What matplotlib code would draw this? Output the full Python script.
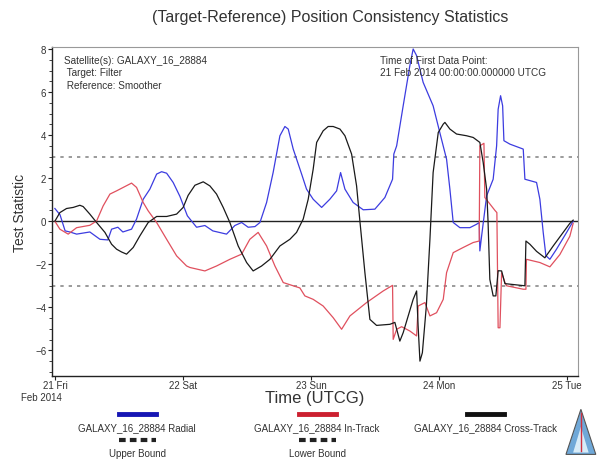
import matplotlib
matplotlib.use("Agg")
import matplotlib.pyplot as plt
from matplotlib.lines import Line2D
from matplotlib.patches import Polygon
from matplotlib.ticker import MultipleLocator

plt.rcParams["font.family"] = ["Liberation Sans", "DejaVu Sans"]

# days since 21 Feb 2014 00:00 UTCG
radial_t = [0.00, 0.04, 0.08, 0.117, 0.17, 0.273, 0.352, 0.414, 0.443, 0.492, 0.531, 0.599,
            0.638, 0.690, 0.742, 0.795, 0.834, 0.873, 0.924, 0.977, 1.035, 1.107, 1.172,
            1.234, 1.341, 1.406, 1.459, 1.510, 1.563, 1.602, 1.654, 1.705, 1.758, 1.797,
            1.823, 1.862, 1.927, 1.966, 2.018, 2.084, 2.148, 2.201, 2.232, 2.266, 2.330,
            2.409, 2.500, 2.578, 2.638, 2.648, 2.670, 2.721, 2.773, 2.799, 2.826, 2.877,
            2.955, 3.008, 3.060, 3.086, 3.112, 3.164, 3.242, 3.295, 3.315, 3.320, 3.334,
            3.373, 3.424, 3.451, 3.463, 3.482, 3.498, 3.508, 3.555, 3.659, 3.672, 3.763,
            3.789, 3.815, 3.836, 3.867, 3.919, 3.998, 4.049]
radial_v = [0.59, 0.30, -0.45, -0.50, -0.60, -0.50, -0.84, -0.87, -0.37, -0.28, -0.50, -0.37,
            0.10, 1.02, 1.49, 2.19, 2.30, 2.23, 1.80, 1.15, 0.25, -0.28, -0.20,
            -0.45, -0.60, -0.20, -0.06, -0.28, -0.25, -0.06, 0.87, 2.26, 3.97, 4.40,
            4.28, 3.35, 2.20, 1.49, 1.02, 0.64, 1.02, 1.41, 2.26, 1.49, 0.87,
            0.53, 0.56, 1.10, 1.95, 3.12, 3.50, 5.36, 7.22, 8.00, 7.69, 6.45,
            5.36, 4.10, 2.88, 1.49, -0.06, -0.30, -0.30, -0.14, -0.06, -1.38, -0.68,
            1.18, 1.95, 3.50, 5.20, 5.83, 5.36, 3.74, 3.58, 3.35, 1.95, 1.80,
            1.02, -0.52, -1.60, -1.77, -1.30, -0.52, 0.00]

intrack_t = [0.00, 0.039, 0.104, 0.170, 0.273, 0.326, 0.377, 0.430, 0.482, 0.534, 0.599,
             0.638, 0.690, 0.729, 0.795, 0.873, 0.951, 1.029, 1.055, 1.172, 1.263, 1.367,
             1.459, 1.523, 1.588, 1.654, 1.719, 1.784, 1.862, 1.914, 1.953, 2.018, 2.096,
             2.174, 2.240, 2.305, 2.435, 2.565, 2.638, 2.643, 2.670, 2.709, 2.773, 2.826,
             2.838, 2.891, 2.930, 2.982, 3.034, 3.060, 3.112, 3.190, 3.268, 3.315, 3.320,
             3.352, 3.359, 3.438, 3.453, 3.463, 3.477, 3.490, 3.516, 3.529, 3.659, 3.680,
             3.684, 3.789, 3.867, 3.945, 4.023, 4.049]
intrack_v = [0.00, -0.37, -0.60, -0.30, -0.19, 0.01, 0.71, 1.26, 1.41, 1.57, 1.77,
             1.57, 0.87, 0.48, -0.06, -0.84, -1.61, -2.08, -2.15, -2.31, -2.08, -1.77,
             -1.53, -0.84, -0.52, -1.15, -2.08, -2.85, -3.00, -3.10, -3.47, -3.63, -3.94,
             -4.48, -5.02, -4.40, -3.78, -3.24, -2.98, -5.49, -5.02, -4.90, -5.10, -5.33,
             -3.94, -3.78, -4.40, -4.25, -3.63, -2.39, -1.46, -1.22, -0.99, -0.92, 3.50,
             3.62, 1.10, 0.50, 0.40, -4.95, -4.95, -2.39, -2.85, -3.00, -3.16, -3.16,
             -1.77, -1.92, -2.12, -1.55, -0.70, -0.10]

cross_t = [0.00, 0.039, 0.091, 0.143, 0.195, 0.221, 0.273, 0.326, 0.391, 0.443, 0.482,
           0.521, 0.560, 0.612, 0.664, 0.729, 0.795, 0.873, 0.951, 1.002, 1.041, 1.094,
           1.159, 1.211, 1.263, 1.315, 1.367, 1.432, 1.498, 1.549, 1.615, 1.680, 1.758,
           1.836, 1.888, 1.940, 1.979, 2.018, 2.045, 2.096, 2.135, 2.174, 2.227, 2.266,
           2.318, 2.357, 2.383, 2.422, 2.461, 2.513, 2.617, 2.656, 2.695, 2.721, 2.799,
           2.826, 2.838, 2.852, 2.871, 2.902, 2.930, 2.955, 2.995, 3.034, 3.047, 3.086,
           3.138, 3.216, 3.268, 3.320, 3.346, 3.373, 3.384, 3.398, 3.424, 3.445, 3.463,
           3.490, 3.516, 3.672, 3.680, 3.711, 3.763, 3.828, 3.893, 3.971, 4.023, 4.049]
cross_v = [0.00, 0.40, 0.59, 0.64, 0.74, 0.68, 0.33, -0.06, -0.52, -1.07, -1.30,
           -1.43, -1.53, -1.22, -0.68, -0.06, 0.22, 0.22, 0.33, 0.64, 1.20, 1.67,
           1.83, 1.64, 1.26, 0.64, -0.06, -1.15, -1.92, -2.31, -2.08, -1.77, -1.15,
           -0.84, -0.52, 0.10, 1.02, 2.42, 3.66, 4.20, 4.40, 4.40, 4.28, 3.97,
           3.12, 1.64, 0.00, -2.39, -4.56, -4.84, -4.79, -4.70, -5.57, -5.18, -3.63,
           -3.24, -4.90, -6.50, -6.11, -3.94, -0.84, 2.26, 4.12, 4.51, 4.59, 4.28,
           4.05, 3.97, 3.89, 3.66, 2.73, 1.49, 0.00, -2.70, -3.47, -3.47, -2.30,
           -2.31, -2.90, -3.00, -0.92, -1.07, -1.40, -1.70, -1.15, -0.52, -0.10, 0.05]

upper_bound = 3.0
lower_bound = -3.0
day_labels = ["21 Fri", "22 Sat", "23 Sun", "24 Mon", "25 Tue"]
sat = "GALAXY_16_28884"

text_c = "#333333"
blue = "#3c3ce0"
red = "#e0505e"

fig = plt.figure(figsize=(5.97, 4.60), dpi=100)
ax = fig.add_axes([0.087, 0.180, 0.881, 0.716])

ax.axhline(0, color="#222222", lw=1.0, zorder=1)
ax.axhline(upper_bound, color="#8a8a8a", lw=1.2, ls=(0, (2, 3)), zorder=1)
ax.axhline(lower_bound, color="#8a8a8a", lw=1.2, ls=(0, (2, 3)), zorder=1)

ax.plot(radial_t, radial_v, color=blue, lw=0.9, zorder=2)
ax.plot(intrack_t, intrack_v, color=red, lw=0.9, zorder=3)
ax.plot(cross_t, cross_v, color="#1a1a1a", lw=0.9, zorder=4)

ax.set_xlim(-0.023, 4.086)
ax.set_ylim(-7.2, 8.1)

ax.set_xticks(range(len(day_labels)))
ax.set_xticklabels(day_labels)
ax.yaxis.set_major_locator(MultipleLocator(2))
ax.yaxis.set_minor_locator(MultipleLocator(0.5))
ax.tick_params(axis="both", which="major", labelsize=7, colors="#222222",
               labelcolor=text_c, length=3.0, width=0.8, pad=1)
ax.tick_params(axis="x", which="major", pad=0)
ax.tick_params(axis="y", which="minor", length=2.5, width=0.6, colors="#222222")
ax.text(-0.058, -0.062, "Feb 2014", transform=ax.transAxes, fontsize=7,
        color=text_c, va="center", ha="left")

for side in ["top", "right"]:
    ax.spines[side].set_color("#999999")
    ax.spines[side].set_linewidth(0.8)
for side in ["left", "bottom"]:
    ax.spines[side].set_color("#222222")
    ax.spines[side].set_linewidth(1.0)

ax.set_xlabel("Time (UTCG)", fontsize=12, color=text_c, labelpad=0)
ax.set_ylabel("Test Statistic", fontsize=10, color=text_c, labelpad=6)

fig.text(0.553, 0.961, "(Target-Reference) Position Consistency Statistics",
         ha="center", va="center", fontsize=11.5, color=text_c)

ax.text(0.022, 0.975, f"Satellite(s): {sat}\n Target: Filter\n Reference: Smoother",
        transform=ax.transAxes, fontsize=7.2, color=text_c, va="top", ha="left",
        linespacing=1.3)
ax.text(0.624, 0.975, "Time of First Data Point:\n21 Feb 2014 00:00:00.000000 UTCG",
        transform=ax.transAxes, fontsize=7.2, color=text_c, va="top", ha="left",
        linespacing=1.3)

# legend laid out below the axes: swatch above each label
dash = dict(color="#222222", lw=3.0, ls=(0, (1.6, 1.0)))
entries = [
    (0.230, 0.098, dict(color="#1616b4", lw=3.5), f"{sat} Radial"),
    (0.531, 0.098, dict(color="#cc2030", lw=3.5), f"{sat} In-Track"),
    (0.814, 0.098, dict(color="#111111", lw=3.5), f"{sat} Cross-Track"),
    (0.230, 0.041, dash, "Upper Bound"),
    (0.531, 0.041, dash, "Lower Bound"),
]
for xc, yc, style, label in entries:
    fig.add_artist(Line2D([xc - 0.031, xc + 0.031], [yc, yc],
                          transform=fig.transFigure, **style))
    fig.text(xc, yc - 0.029, label, ha="center", va="center", fontsize=7,
             color=text_c)

# small triangle emblem in the corner
fig.add_artist(Polygon([[0.948, 0.010], [0.998, 0.010], [0.973, 0.108]],
                       closed=True, transform=fig.transFigure,
                       facecolor="#6fa8d8", edgecolor="#555555", lw=0.8))
fig.add_artist(Polygon([[0.960, 0.014], [0.986, 0.014], [0.973, 0.070]],
                       closed=True, transform=fig.transFigure,
                       facecolor="#d8ecf8", edgecolor="none"))
fig.add_artist(Line2D([0.973, 0.973], [0.018, 0.100], transform=fig.transFigure,
                      color="#d03040", lw=1.0))

fig.savefig("out.png", dpi=100)
